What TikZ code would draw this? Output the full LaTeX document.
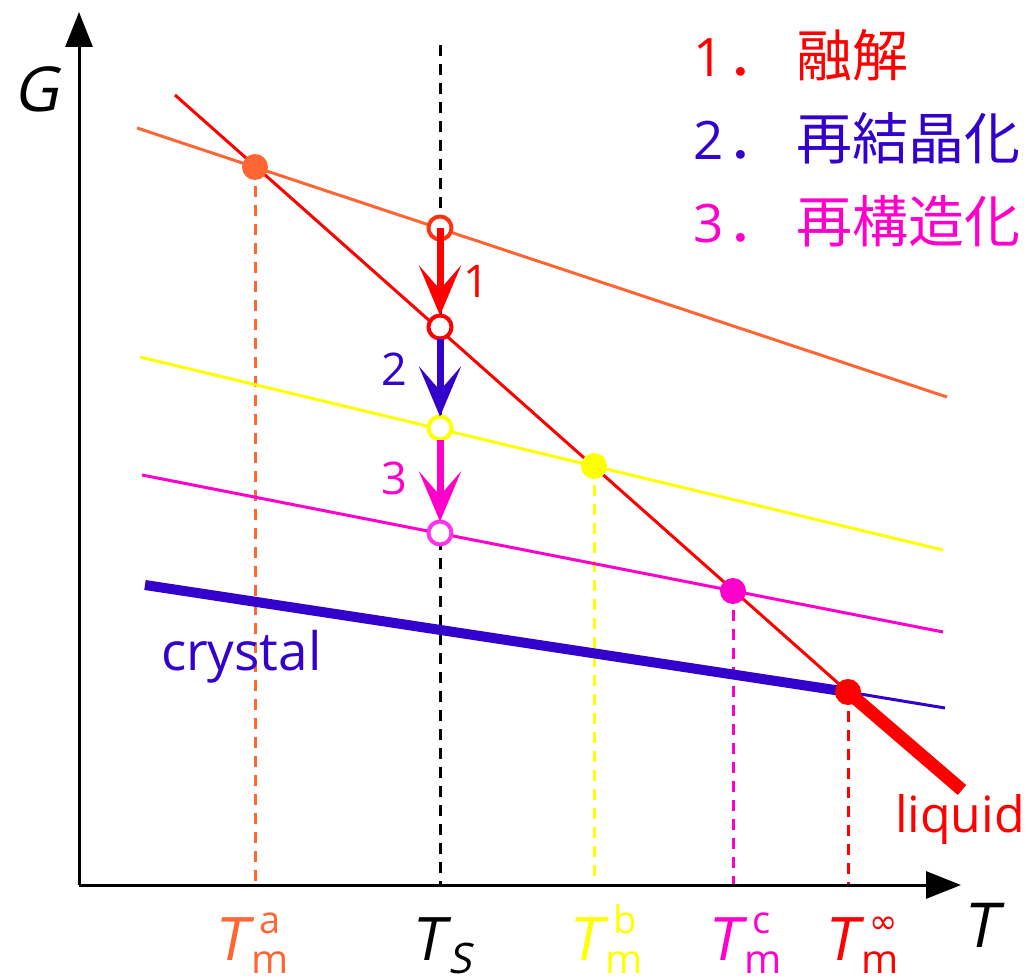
\documentclass[tikz,border=0pt]{standalone}
\usepackage{fontspec}
\setmainfont{Open Sans}
\newfontfamily\slf[FakeSlant=0.2]{Open Sans}
\newfontfamily\cjk{Noto Sans CJK JP}
\newfontfamily\dvs{DejaVu Sans}
\usetikzlibrary{arrows.meta}
\definecolor{cred}{HTML}{FF0000}
\definecolor{cored}{HTML}{FF3311}
\definecolor{corange}{HTML}{FF6633}
\definecolor{cyellow}{HTML}{FFFF00}
\definecolor{cmag}{HTML}{FF00CC}
\definecolor{cmagl}{HTML}{FF33EE}
\definecolor{cblue}{HTML}{3300CC}
\newcommand\mylab[2]{{\slf T}\hspace{5pt}\makebox[0pt][l]{\hspace{8pt}\raisebox{27pt}{\fontsize{38}{38}\selectfont #1}}\raisebox{-13pt}{\fontsize{40}{40}\selectfont #2}}
\begin{document}
\begin{tikzpicture}[x=1pt,y=-1pt,
  every node/.style={inner sep=0pt,outer sep=0pt},
  thinline/.style={line width=3pt},
  vdash/.style={line width=3pt,dash pattern=on 11pt off 8pt},
  axis/.style={line width=3pt,-{Triangle[length=35pt,width=27pt]}},
  dot/.style={circle,minimum size=26pt,fill=#1},
  ring/.style={circle,minimum size=23pt,draw=#1,line width=4pt,fill=white},
  downarr/.style={line width=7pt,draw=#1,-{Stealth[length=50pt,width=42pt,inset=24pt]}},
  big/.style={font=\fontsize{60}{60}\selectfont}
]
\useasboundingbox (0,0) rectangle (1028,979);
% key coordinates
\coordinate (O) at (79,885);
\coordinate (Ytip) at (79,12);
\coordinate (Xtip) at (961,885);
\coordinate (pa) at (255,167);
\coordinate (pb) at (594,466);
\coordinate (pc) at (733,591);
\coordinate (pinf) at (848,692);
\coordinate (r1) at (440,228);
\coordinate (r2) at (440,327);
\coordinate (r3) at (440,428);
\coordinate (r4) at (440,533);
\coordinate (tsTop) at (440,45);
% dashed verticals
\draw[vdash,black] (tsTop) -- (440,885);
\draw[vdash,corange] (pa) -- (255,885);
\draw[vdash,cyellow] (pb) -- (594,885);
\draw[vdash,cmag] (pc) -- (733,885);
\draw[vdash,cred] (pinf) -- (848,885);
% axes
\draw[axis] (O) -- (Ytip);
\draw[axis] (O) -- (Xtip);
% free energy lines
\coordinate (oa) at (137,128); \coordinate (ob) at (947,397);
\coordinate (ya) at (140,357); \coordinate (yb) at (943,550);
\coordinate (ma) at (142,475); \coordinate (mb) at (943,632);
\coordinate (ca) at (145,585); \coordinate (cb) at (945,708);
\coordinate (la) at (175,95);  \coordinate (lb) at (962,790);
\draw[thinline,corange] (oa) -- (ob);
\draw[thinline,cyellow] (ya) -- (yb);
\draw[thinline,cmag] (ma) -- (mb);
\draw[line width=10pt,cblue] (ca) -- (pinf);
\draw[thinline,cblue] (pinf) -- (cb);
\draw[thinline,cred] (la) -- (pinf);
\draw[line width=13pt,cred] (pinf) -- (lb);
% dots
\node[dot=corange] (A) at (pa) {};
\node[dot=cyellow] (B) at (pb) {};
\node[dot=cmag] (C) at (pc) {};
\node[dot=cred] (D) at (pinf) {};
% rings
\node[ring=cored] (R1) at (r1) {};
\node[ring=cred] (R2) at (r2) {};
\node[ring=cyellow] (R3) at (r3) {};
\node[ring=cmagl] (R4) at (r4) {};
% arrows
\draw[downarr=cred] (R1.center) -- (R2.north);
\draw[downarr=cblue] (R2.south) -- (R3.north);
\draw[downarr=cmag] (R3.south) -- (R4.north);
\node[text=cred,font=\fontsize{45}{45}\selectfont] (n1) at (476,281) {1};
\node[text=cblue,font=\fontsize{45}{45}\selectfont] (n2) at (394,369) {2};
\node[text=cmag,font=\fontsize{45}{45}\selectfont] (n3) at (394,478) {3};
% axis labels
\node[anchor=base west,font=\fontsize{62}{62}\selectfont\slf] (G) at (13,112) {G};
\node[anchor=base west,font=\fontsize{62}{62}\selectfont\slf] (T) at (962,947) {T};
% temperature labels
\node[anchor=base west,big,text=corange] (Ta) at (213,960) {\mylab{a}{m}};
\node[anchor=base west,big,text=black] (Ts) at (410,960) {{\slf T}\hspace{5pt}\raisebox{-13pt}{\fontsize{42}{42}\selectfont\slf S}};
\node[anchor=base west,big,text=cyellow] (Tb) at (567,960) {\mylab{b}{m}};
\node[anchor=base west,big,text=cmag] (Tc) at (706,960) {\mylab{c}{m}};
\node[anchor=base west,big,text=cred] (Tinf) at (823,960) {\mylab{{\dvs\fontsize{34}{34}\selectfont ∞}}{m}};
% curve labels
\node[anchor=base west,text=cblue,font=\fontsize{53}{53}\selectfont] (cry) at (161,670) {crystal};
\node[anchor=base west,text=cred,font=\fontsize{50}{50}\selectfont] (liq) at (895,832) {liquid};
% legend
\node[anchor=base west,text=cred,font=\fontsize{53}{53}\selectfont] (L1) at (693,77) {\makebox[104pt][l]{1\hspace{4pt}{\cjk\fontsize{56}{56}\selectfont ．}}{\cjk\fontsize{56}{56}\selectfont 融解}};
\node[anchor=base west,text=cblue,font=\fontsize{53}{53}\selectfont] (L2) at (693,160) {\makebox[104pt][l]{2\hspace{4pt}{\cjk\fontsize{56}{56}\selectfont ．}}{\cjk\fontsize{56}{56}\selectfont 再結晶化}};
\node[anchor=base west,text=cmag,font=\fontsize{53}{53}\selectfont] (L3) at (693,242) {\makebox[104pt][l]{3\hspace{4pt}{\cjk\fontsize{56}{56}\selectfont ．}}{\cjk\fontsize{56}{56}\selectfont 再構造化}};
\end{tikzpicture}
\end{document}
